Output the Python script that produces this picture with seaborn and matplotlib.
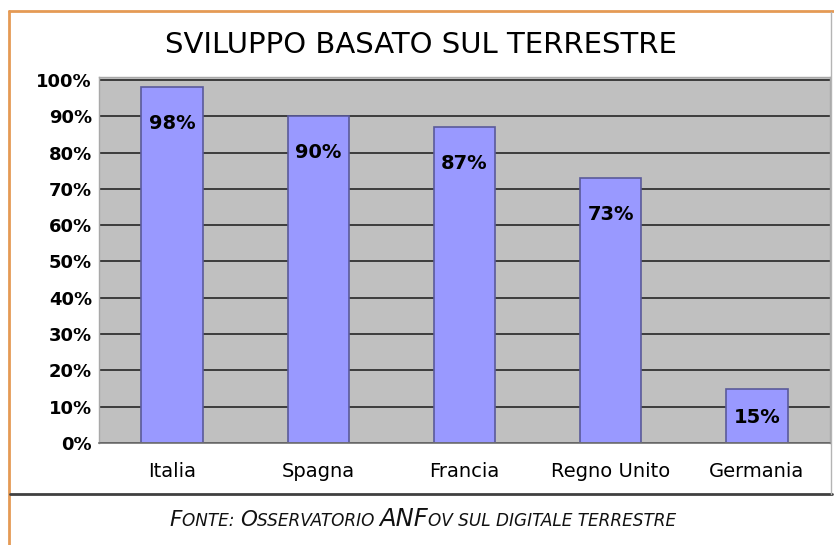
import matplotlib
matplotlib.use("Agg")
import matplotlib.pyplot as plt
from matplotlib.lines import Line2D
from matplotlib.ticker import FixedLocator
import seaborn as sns
import pandas as pd

paesi = ["Italia", "Spagna", "Francia", "Regno Unito", "Germania"]
valori = [98, 90, 87, 73, 15]
tick_y = [0, 10, 20, 30, 40, 50, 60, 70, 80, 90, 100]
titolo = "SVILUPPO BASATO SUL TERRESTRE"
fonte = [("F", 15.5), ("ONTE: ", 12.2), ("O", 15.5), ("SSERVATORIO ", 12.2),
         ("ANF", 17.5), ("OV SUL DIGITALE TERRESTRE", 12.2)]

df = pd.DataFrame({"paese": paesi, "valore": valori})

sns.set_style("white")
plt.rcParams["font.family"] = ["DejaVu Sans"]
plt.rcParams["text.color"] = "black"
plt.rcParams["xtick.color"] = "black"
plt.rcParams["ytick.color"] = "black"

W, H = 834, 545
fig = plt.figure(figsize=(W / 100, H / 100), dpi=100)
ax = fig.add_axes([99 / W, (H - 443) / H, (830 - 99) / W, (443 - 77) / H])
ax.set_facecolor("#c0c0c0")

sns.barplot(data=df, x="paese", y="valore", ax=ax, width=0.42,
            color="#9999ff", saturation=1, edgecolor="#5a5a9a", linewidth=1.2)

ax.set_ylim(0, 100.8)
ax.set_xlim(-0.5, len(paesi) - 0.5)
ax.set_yticks(tick_y)
ax.set_yticklabels([f"{v}%" for v in tick_y], fontweight="bold", fontsize=13)
ax.yaxis.grid(True, color="#3c3c3c", linewidth=1.4)
ax.set_axisbelow(True)
ax.tick_params(axis="y", length=3, color="#3c3c3c", labelcolor="black", pad=2)
ax.tick_params(axis="x", which="major", length=0, labelsize=14, labelcolor="black", pad=14)
ax.xaxis.set_minor_locator(FixedLocator([i + 0.5 for i in range(-1, len(paesi))]))
ax.tick_params(axis="x", which="minor", length=5, color="#707070")
ax.set_xlabel("")
ax.set_ylabel("")

for s in ["top", "right", "left"]:
    ax.spines[s].set_color("#a8a8a8")
    ax.spines[s].set_linewidth(1)
ax.spines["bottom"].set_color("#707070")
ax.spines["bottom"].set_linewidth(1.2)

for i, v in enumerate(valori):
    ax.text(i, v - 10 if v > 50 else v - 8, f"{v}%", ha="center", va="center",
            fontsize=14, fontweight="bold", color="black")

fig.text(421 / W, 1 - 45 / H, titolo, ha="center", va="center", fontsize=21, color="black")

# cornice
fig.add_artist(Line2D([9 / W, 9 / W], [0, 1 - 11 / H], transform=fig.transFigure,
                      color="#e59a55", linewidth=2))
fig.add_artist(Line2D([9 / W, 1], [1 - 11 / H, 1 - 11 / H], transform=fig.transFigure,
                      color="#e59a55", linewidth=2))
fig.add_artist(Line2D([10 / W, 832 / W], [1 - 494 / H, 1 - 494 / H], transform=fig.transFigure,
                      color="#404040", linewidth=2))
fig.add_artist(Line2D([831 / W, 831 / W], [1 - 494 / H, 1 - 12 / H], transform=fig.transFigure,
                      color="#b4b4b4", linewidth=1))

# fonte in maiuscoletto
fig.canvas.draw()
renderer = fig.canvas.get_renderer()
pezzi = []
larghezza = 0
for testo, dim in fonte:
    t = fig.text(0, 1 - 526 / H, testo, fontsize=dim, style="italic",
                 ha="left", va="baseline", color="#111111")
    w = t.get_window_extent(renderer).width
    pezzi.append((t, w))
    larghezza += w
x = 423 - larghezza / 2
for t, w in pezzi:
    t.set_x(x / W)
    x += w

fig.savefig("out.png", dpi=100)
